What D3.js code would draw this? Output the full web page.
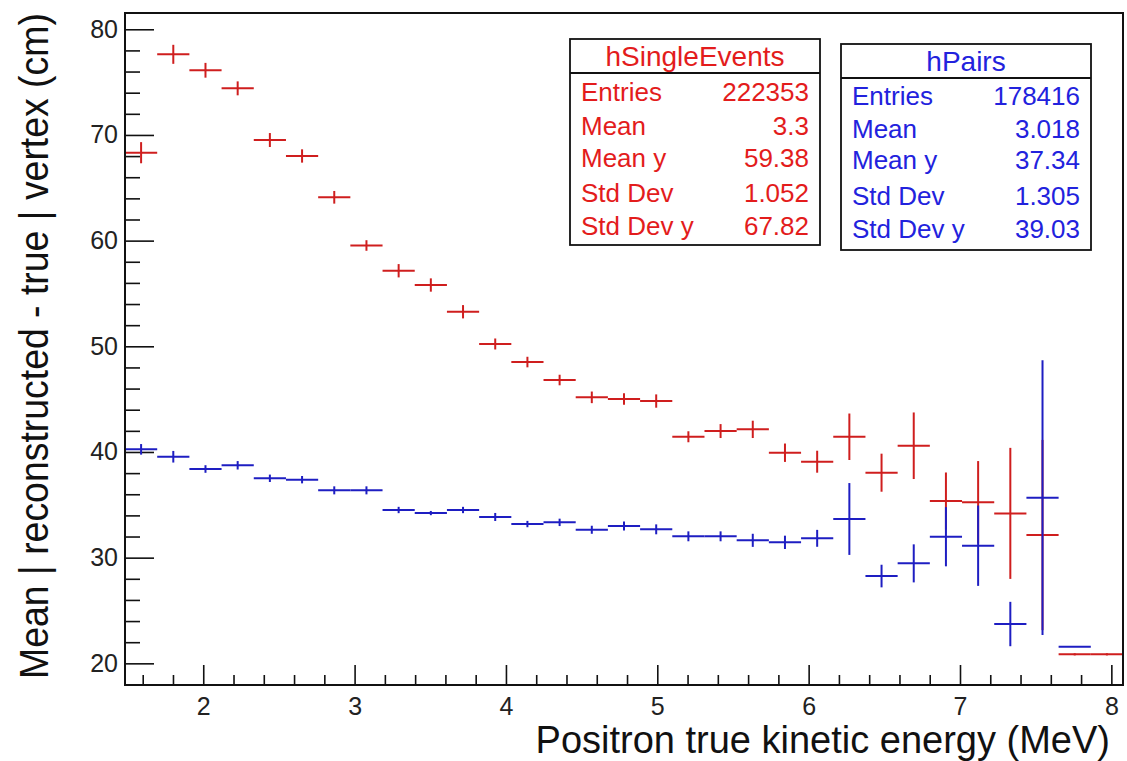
<!DOCTYPE html>
<html>
<head>
<meta charset="utf-8">
<script src="https://cdn.jsdelivr.net/npm/d3@7"></script>
<style>
  html, body { margin: 0; padding: 0; background: #fff; }
  svg { display: block; font-family: "Liberation Sans", Arial, Helvetica, sans-serif; }
</style>
</head>
<body>
<svg id="chart" width="1127" height="761"></svg>
<script>
// ---------- data ----------
const xRange = [1.483, 8.077];      // histogram axis range (MeV)
const nBins = 31;
const yRange = [17.95, 81.54];

const singleMean = [68.32, 77.63, 76.12, 74.41, 69.52, 68.01, 64.10, 59.54, 57.15, 55.80,
                    53.27, 50.22, 48.51, 46.81, 45.17, 45.01, 44.82, 41.44, 41.98, 42.14,
                    39.93, 39.08, 41.44, 38.04, 40.59, 35.36, 35.24, 34.19, 32.14, 20.85, 20.85];
const singleErr  = [1.0, 0.9, 0.7, 0.66, 0.66, 0.63, 0.6, 0.5, 0.63, 0.63,
                    0.63, 0.52, 0.5, 0.5, 0.55, 0.55, 0.63, 0.52, 0.66, 0.82,
                    0.87, 1.04, 2.2, 1.8, 3.15, 2.7, 3.9, 6.2, 9.0, 0.1, 0.1];
const pairsMean  = [40.25, 39.55, 38.39, 38.74, 37.51, 37.38, 36.37, 36.37, 34.51, 34.22,
                    34.51, 33.85, 33.18, 33.34, 32.64, 32.99, 32.68, 32.02, 32.02, 31.64,
                    31.45, 31.83, 33.66, 28.26, 29.46, 31.98, 31.13, 23.72, 35.67, 21.57, null];
const pairsErr   = [0.5, 0.55, 0.36, 0.4, 0.35, 0.35, 0.38, 0.38, 0.3, 0.2,
                    0.3, 0.38, 0.3, 0.35, 0.38, 0.43, 0.47, 0.47, 0.47, 0.62,
                    0.63, 0.8, 3.4, 1.07, 1.8, 2.8, 3.8, 2.1, 13.0, 0, 0];

const xTicks = [2, 3, 4, 5, 6, 7, 8];
const yTicks = [20, 30, 40, 50, 60, 70, 80];

const statsSingle = [["Entries", "222353"], ["Mean", "3.3"], ["Mean y", "59.38"],
                     ["Std Dev", "1.052"], ["Std Dev y", "67.82"]];
const statsPairs  = [["Entries", "178416"], ["Mean", "3.018"], ["Mean y", "37.34"],
                     ["Std Dev", "1.305"], ["Std Dev y", "39.03"]];

// ---------- layout ----------
const plot = { left: 125, right: 1123, top: 13, bottom: 685 };
const RED_LINE = "#cf1e1e", BLUE_LINE = "#1e1ec2";
const RED_TXT = "#e31c1c", BLUE_TXT = "#2222dd";

const svg = d3.select("#chart");
const x = d3.scaleLinear().domain(xRange).range([plot.left, plot.right]);
const y = d3.scaleLinear().domain(yRange).range([plot.bottom, plot.top]);
const binW = (xRange[1] - xRange[0]) / nBins;

// minor tick values
const xMinor = d3.range(Math.ceil(xRange[0] / 0.2) * 0.2, xRange[1], 0.2)
  .filter(v => Math.abs(v - Math.round(v)) > 1e-6);
const yMinor = d3.range(18, 82, 2).filter(v => v % 10 !== 0 && v > yRange[0] && v < yRange[1]);

// axes (ticks pointing inside the frame, ROOT-like)
svg.append("g").attr("transform", `translate(0,${plot.bottom})`)
  .call(d3.axisBottom(x).tickValues(xTicks).tickFormat(d3.format("d"))
        .tickSizeInner(-20).tickSizeOuter(0).tickPadding(12));
svg.append("g").attr("transform", `translate(0,${plot.bottom})`)
  .call(d3.axisBottom(x).tickValues(xMinor).tickFormat("").tickSizeInner(-10).tickSizeOuter(0));
svg.append("g").attr("transform", `translate(${plot.left},0)`)
  .call(d3.axisLeft(y).tickValues(yTicks).tickFormat(d3.format("d"))
        .tickSizeInner(-29).tickSizeOuter(0).tickPadding(7));
svg.append("g").attr("transform", `translate(${plot.left},0)`)
  .call(d3.axisLeft(y).tickValues(yMinor).tickFormat("").tickSizeInner(-15).tickSizeOuter(0));

svg.selectAll(".domain").remove();
svg.selectAll(".tick line").attr("stroke", "#111").attr("stroke-width", 1.6);
svg.selectAll(".tick text").attr("fill", "#222").attr("font-size", 25)
   .attr("font-family", "'Liberation Sans', Arial, sans-serif");

// data marks
svg.append("clipPath").attr("id", "plotclip").append("rect")
  .attr("x", plot.left).attr("y", plot.top)
  .attr("width", plot.right - plot.left).attr("height", plot.bottom - plot.top);

function drawSeries(vals, errs, color) {
  const data = vals.map((v, i) => ({ i, v, e: errs[i] })).filter(d => d.v !== null);
  const g = svg.append("g").attr("clip-path", "url(#plotclip)")
    .attr("stroke", color).attr("stroke-width", 2).attr("fill", "none");
  g.selectAll("line.h").data(data).join("line").attr("class", "h")
    .attr("x1", d => x(xRange[0] + d.i * binW))
    .attr("x2", d => x(xRange[0] + (d.i + 1) * binW))
    .attr("y1", d => y(d.v)).attr("y2", d => y(d.v));
  g.selectAll("line.v").data(data.filter(d => d.e > 0)).join("line").attr("class", "v")
    .attr("x1", d => x(xRange[0] + (d.i + 0.5) * binW))
    .attr("x2", d => x(xRange[0] + (d.i + 0.5) * binW))
    .attr("y1", d => y(d.v - d.e)).attr("y2", d => y(d.v + d.e));
}
drawSeries(singleMean, singleErr, RED_LINE);
drawSeries(pairsMean, pairsErr, BLUE_LINE);

// frame
svg.append("rect").attr("x", plot.left).attr("y", plot.top)
  .attr("width", plot.right - plot.left).attr("height", plot.bottom - plot.top)
  .attr("fill", "none").attr("stroke", "#111").attr("stroke-width", 2);

// axis titles
svg.append("text")
  .attr("x", 1110).attr("y", 753).attr("text-anchor", "end")
  .attr("font-size", 38).attr("fill", "#111")
  .text("Positron true kinetic energy (MeV)");
svg.append("text")
  .attr("transform", "translate(48,346) rotate(-90) scale(0.935,1)")
  .attr("text-anchor", "middle")
  .attr("font-size", 40).attr("fill", "#111")
  .text("Mean | reconstructed - true | vertex (cm)");

// stats boxes
function statBox(b, title, rows, color) {
  const g = svg.append("g");
  g.append("rect").attr("x", b.x0).attr("y", b.y0)
    .attr("width", b.x1 - b.x0).attr("height", b.y1 - b.y0)
    .attr("fill", "#fff").attr("stroke", "#111").attr("stroke-width", 1.8);
  g.append("line").attr("x1", b.x0).attr("x2", b.x1).attr("y1", b.sep).attr("y2", b.sep)
    .attr("stroke", "#111").attr("stroke-width", 1.8);
  g.append("text").attr("x", (b.x0 + b.x1) / 2).attr("y", b.titleY)
    .attr("text-anchor", "middle").attr("dominant-baseline", "central")
    .attr("font-size", 28).attr("fill", color).text(title);
  rows.forEach((r, k) => {
    g.append("text").attr("x", b.x0 + 11).attr("y", b.rowY[k])
      .attr("dominant-baseline", "central").attr("font-size", 26).attr("fill", color).text(r[0]);
    g.append("text").attr("x", b.x1 - 11).attr("y", b.rowY[k]).attr("text-anchor", "end")
      .attr("dominant-baseline", "central").attr("font-size", 26).attr("fill", color).text(r[1]);
  });
}
statBox({ x0: 570, x1: 820, y0: 39, y1: 245, sep: 73, titleY: 56,
          rowY: [92, 126, 158, 193, 226] }, "hSingleEvents", statsSingle, RED_TXT);
statBox({ x0: 841, x1: 1091, y0: 44, y1: 250, sep: 78, titleY: 61,
          rowY: [96, 129, 160, 196, 229] }, "hPairs", statsPairs, BLUE_TXT);
</script>
</body>
</html>
